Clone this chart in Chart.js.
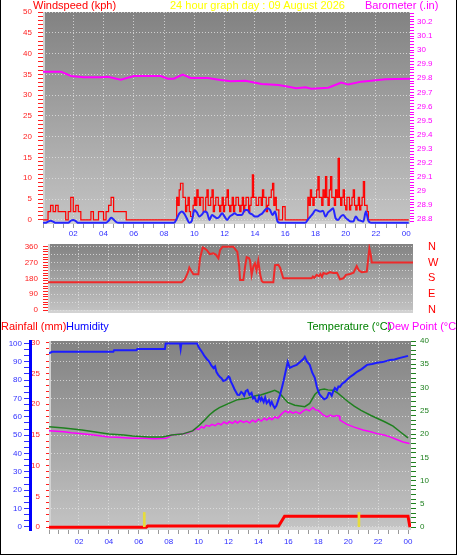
<!DOCTYPE html>
<html><head><meta charset="utf-8">
<script src="https://cdn.jsdelivr.net/npm/chart.js@4.4.0/dist/chart.umd.min.js"></script>
<style>
html,body{margin:0;padding:0;background:#fff;}
#wrap{position:relative;width:457px;height:555px;background:#fff;overflow:hidden;}
#wrap canvas{position:absolute;left:0;}
.t{position:absolute;font-family:"Liberation Sans",Arial,sans-serif;font-size:11px;line-height:11px;white-space:nowrap;}
#frame{position:absolute;left:0;top:0;width:457px;height:555px;box-sizing:border-box;border-left:1px solid #000;border-right:1px solid #000;border-bottom:1px solid #000;pointer-events:none;}
</style></head>
<body><div id="wrap">
<canvas id="c1" width="457" height="240" style="top:0"></canvas>
<canvas id="c2" width="457" height="80" style="top:240px"></canvas>
<canvas id="c3" width="457" height="235" style="top:320px"></canvas>
<div class="t" style="left:33px;top:0;color:#ff0000">Windspeed (kph)</div>
<div class="t" style="left:170px;top:0;color:#ffff00">24 hour graph day : 09 August 2026</div>
<div class="t" style="left:365px;top:0;color:#ff00ff">Barometer (.in)</div>
<div class="t" style="left:1px;top:321px;color:#ff0000">Rainfall (mm)</div>
<div class="t" style="left:66px;top:321px;color:#0000ff">Humidity</div>
<div class="t" style="left:307px;top:321px;color:#008000">Temperature (°C)</div>
<div class="t" style="left:387px;top:321px;color:#ff00ff">Dew Point (°C)</div>
<div id="frame"></div>
</div>
<script>
// ---------- DATA ----------
// wind gust (kph), three sampled segments: start hour, step in minutes, values
const gustEarlyStart = 0, gustEarlyStep = 10;
const gustEarly = [0,0,2,3.5,2,3.5,2,2,2,0,2,5.4,2,3.5,2,0,0,0,0,2,0,0,2,2,0,2,3.5,5.4,2,2,2,2,2,
 0,0,0,0,0,0,0,0,0,0,0,0,0,0,0,0,0,0,0,0];
const gustDayStart = 8 + 50 / 60, gustDayStep = 5;
const gustDay = [
 5.4,3.5,7.2,8.8,8.8,5.4,5.4,2,3.5,5.4,2,0.8,
 0.8,3.5,5.4,3.5,7.2,5.4,3.5,5.4,5.4,2,2,5.4,
 7.2,3.5,3.5,5.4,7.2,2,3.5,5.4,5.4,3.5,2,3.5,
 5.4,2,3.5,5.4,7.2,3.5,2,3.5,5.4,2,3.5,5.4,
 5.4,3.5,2,3.5,5.4,2,3.5,5.4,5.4,2,3.5,5.4,
 10.8,5.4,5.4,3.5,3.5,5.4,5.4,3.5,7.2,5.4,5.4,2,
 3.5,5.4,5.4,7.2,8.8,3.5,5.4,2.4,2.4,0,0,0,
 3.2,3.2,0,0,0,0,0,0,0,0,0,0,
 0,0,0,0,0,0,0,0,5.4,3.5,7.2,5.4,
 3.5,5.4,5.4,7.2,10.4,5.4,5.4,3.5,7.2,5.4,10.4,5.4,
 3.5,7.2,10.4,5.4,5.4,3.5,7.2,5.4,14.8,5.4,3.5,5.4,
 7.2,3.5,2.4,5.4,5.4,2.4,3.5,5.4,7.2,3.5,2.4,3.5,
 5.4,2.4,3.5,5.4,9.2,3.5,3.5,2,0,0,0,0];
const gustLateStart = 21 + 50 / 60, gustLateStep = 10;
const gustLate = [0,0,0,0,0,0,0,0,0,0,0,0,0,0,0];
// average wind (kph), every 10 minutes from 00:00
const avgStep = 10;
const windAvg = [
 0,0,0.3,0.5,0.3,0,0,0,0,0,0,0.5,0.7,0.4,0,0,0,0,0,0,0,0,0,0,0,0,0.5,1.2,0.8,0.2,
 0,0,0,0,0,0,0,0,0,0,0,0,0,0,0,0,0,0,0,0,0,0,0,
 1.0,2.2,2.7,2.2,1.1,0,0.5,3.1,2.5,1.5,2.0,2.7,2.5,0.7,1.9,1.5,1.1,1.5,2.3,1.5,0.7,1.5,1.9,2.3,1.9,1.9,2.0,3.1,3.1,2.3,2.0,1.5,1.5,1.9,2.3,3.1,3.5,3.1,1.9,2.7,0.3,
 0,0,0,0,0,0,0,0,0,0,0,
 0.8,1.5,2.2,3.1,2.9,2.7,2.9,1.5,2.5,3.0,3.5,1.1,0.7,1.5,1.9,1.2,0.7,0.3,0.3,1.5,0.7,0.5,0.3,2.7,0.5,
 0,0,0,0,0,0,0,0,0,0,0,0,0,0,0,0
];
const baroHours = [0.0,1.19,1.85,2.7,3.82,4.28,5.14,6.0,6.66,7.78,8.24,8.64,9.23,9.76,10.88,11.73,12.39,13.38,14.44,15.56,16.22,16.74,17.34,17.73,18.85,19.71,20.17,21.03,21.69,22.61,23.27,24.25];
const baroValues = [29.847,29.847,29.816,29.807,29.807,29.81,29.79,29.816,29.816,29.816,29.797,29.797,29.826,29.802,29.802,29.788,29.779,29.783,29.76,29.752,29.74,29.729,29.736,29.726,29.733,29.769,29.755,29.776,29.783,29.793,29.795,29.797];
const dirHours = [0,8.88,9.1,9.3,9.39,9.5,9.66,9.99,10.1,10.28,10.4,10.54,10.75,10.98,11.15,11.32,11.43,11.6,12.31,12.45,12.58,12.7,12.76,12.98,13.1,13.2,13.35,13.42,13.53,13.65,13.75,13.85,13.97,14.1,14.2,14.3,14.97,15.08,15.3,15.42,15.63,17.52,17.6,17.7,17.85,18.0,18.1,18.2,18.3,18.5,18.74,18.96,19.2,19.4,19.62,19.8,20.07,20.3,20.51,20.65,20.84,21.18,21.35,21.45,21.51,24.25];
const dirValues = [157.5,157.5,175,215,241,225,203,203,294,355,350,341,318,322,315,294,340,360,360,345,330,250,171,171,250,300,295,282,200,250,265,225,280,200,165,157.5,157.5,255,257,240,180,180,190,183,200,192,205,188,210,205,215,210,212,175,180,200,205,212,250,225,215,218,350,310,270,270];
const humHours = [0,0.2,4.3,4.35,5.85,5.9,7.75,7.8,8.75,8.8,8.85,9.9,10.0,10.25,10.4,10.55,10.72,10.85,11.0,11.1,11.19,11.3,11.45,11.53,11.65,11.8,11.87,12.0,12.07,12.17,12.27,12.4,12.5,12.6,12.72,12.85,12.94,13.05,13.15,13.27,13.4,13.54,13.64,13.74,13.85,13.95,14.05,14.15,14.22,14.35,14.45,14.55,14.7,14.8,14.89,15.0,15.09,15.2,15.29,15.45,15.62,15.8,15.96,16.1,16.3,16.56,16.8,17.0,17.1,17.25,17.43,17.6,17.77,17.9,17.97,18.1,18.24,18.4,18.58,18.7,18.78,18.9,19.0,19.11,19.25,19.35,19.45,19.6,19.78,19.95,20.12,20.35,20.59,20.9,21.26,21.6,21.93,22.3,22.8,23.1,23.47,23.8,24.0];
const humValues = [94.5,95.4,95.4,96.3,96.3,97,97,100,100,97,100,100,98,95,93,91.5,90,88,86.5,87.5,84.5,83,81.5,81,79.5,80,80.5,82,81.5,79,77.4,75,73.5,72,71.9,73.5,73,71.5,74,74.6,72,73,70,70.8,68.5,68.1,71,69,70.3,68,70.5,67.5,69,66.5,68.1,66,64.8,66,68.1,72,77.4,84,89.9,86.7,87.5,88.3,90,91.5,92.7,90,88.3,84,81.2,76.5,74.6,72,70.8,69.5,70.3,73,73,71.5,74,75.7,74.5,76.5,76.3,78,79,80.5,81.7,83,84.5,86,88.3,88.8,89.4,89.8,91,91.2,92.1,92.8,93.2];
const tempHours = [0,1.0,2.2,3.0,4.0,5.0,5.6,6.7,7.6,8.2,8.9,9.6,10.05,10.4,10.72,11.05,11.39,11.95,12.6,13.27,13.88,14.15,14.82,15.09,15.35,15.62,15.96,16.43,17.1,17.43,17.77,18.1,18.4,18.64,19.0,19.31,19.98,20.4,20.86,21.53,22.47,23.0,23.47,24.0];
const tempValues = [21.6,21.3,20.9,20.5,20.0,19.8,19.6,19.4,19.4,19.8,20.0,20.7,21.9,23.0,24.1,25.0,25.7,26.5,27.4,27.7,28.3,28.4,29.1,29.4,29.0,28.0,26.8,26.2,25.9,26.6,28.5,29.5,29.7,29.5,29.4,28.8,27.0,26.0,25.1,24.0,22.6,21.7,20.5,19.2];
const dewHours = [0,0.5,1.0,1.5,2.2,3.0,4.0,4.5,5.56,6.5,7.0,7.84,8.2,8.9,9.3,9.6,9.85,10.0,10.2,10.35,10.5,10.72,10.9,11.1,11.3,11.5,11.7,11.9,12.06,12.25,12.45,12.6,12.8,13.0,13.2,13.41,13.6,13.8,14.0,14.2,14.4,14.55,14.75,14.9,15.1,15.3,15.45,15.6,15.8,16.0,16.1,16.3,16.5,16.77,17.0,17.2,17.4,17.64,17.8,18.0,18.1,18.3,18.58,18.8,19.0,19.25,19.4,19.45,19.7,19.92,20.4,20.99,21.5,21.93,22.4,22.8,23.2,23.67,24.1];
const dewValues = [20.7,20.6,20.5,20.3,20.1,19.8,19.4,19.3,19.1,19.1,19.0,19.1,19.8,20.0,20.3,20.7,21.2,21.0,21.6,21.3,21.9,21.7,22.1,21.8,22.3,22.0,22.6,22.2,22.7,22.3,22.8,22.4,22.9,22.5,22.8,22.4,23.0,22.6,23.2,22.8,23.4,23.0,23.5,23.1,23.7,23.4,24.0,24.5,25.0,24.6,24.9,24.5,24.8,24.4,25.0,25.3,25.0,25.7,25.2,25.1,24.8,24.2,23.7,24.1,23.8,24.0,23.9,23.0,22.5,22.1,21.5,20.9,20.5,20.1,19.8,19.4,18.9,18.3,18.0];
const rainHours = [0,6.5,6.6,15.35,15.75,24.0,24.13];
const rainValues = [0,0,0.2,0.2,1.8,1.8,0];
const markHours = [6.37,20.72];
const markValues = [2.4,2.4];
const xLabelHours = [2,4,6,8,10,12,14,16,18,20,22,24];
const xLabelText = ['02','04','06','08','10','12','14','16','18','20','22','00'];
const compassDegrees = [0,90,180,270,360];
const compassLabels = ['N','E','S','W','N'];

// ---------- HELPERS ----------
const FONT = '"Liberation Sans", Arial, sans-serif';
const GRID = 'rgba(225,225,225,0.8)';
const NONE = 'rgba(0,0,0,0)';
const pts = (xs, ys) => xs.map((x, i) => ({x, y: ys[i]}));
const seg = (start, stepMin, ys) => ys.map((y, i) => ({x: start + i * stepMin / 60, y}));
const near = (a, b) => Math.abs(a - b) < 1e-6;
const rangeTicks = (from, to, step) => { const t = []; const n = Math.round((to - from) / step); for (let k = 0; k <= n; k++) t.push({value: Math.round((from + k * step) * 1000) / 1000}); return t; };
const fix = (w, h) => s => { if (w != null) s.width = w; if (h != null) s.height = h; s.paddingTop = 0; s.paddingBottom = 0; s.paddingLeft = 0; s.paddingRight = 0; };

const bgPlugin = {
  id: 'bg',
  beforeDraw(chart) {
    const {ctx, chartArea: a} = chart;
    const g = ctx.createLinearGradient(0, a.top, 0, a.bottom);
    g.addColorStop(0, '#828282');
    g.addColorStop(1, '#c4c4c4');
    ctx.save();
    ctx.fillStyle = g;
    ctx.fillRect(a.left, a.top, a.right - a.left, a.bottom - a.top);
    ctx.fillStyle = '#d2d2d2';
    ctx.fillRect(a.left, a.bottom - 3, a.right - a.left, 3);
    ctx.fillRect(a.left, a.top, 2, a.bottom - a.top);
    ctx.restore();
  }
};

function xAxis(max, height, pad, showLabels) {
  return {
    type: 'linear', min: 0, max: max, offset: false, display: true,
    afterBuildTicks: s => { s.ticks = rangeTicks(0, 24, 2 / 3); },
    afterFit: fix(null, height),
    grid: {
      offset: false, drawTicks: showLabels, tickLength: 4, tickColor: '#9a9a9a',
      color: c => (c.tick && xLabelHours.some(h => near(h, c.tick.value) && h < 24)) ? GRID : NONE
    },
    border: {display: false, dash: [1, 2]},
    ticks: {
      display: showLabels, autoSkip: false, maxRotation: 0, padding: pad, color: '#3030ff',
      font: {family: FONT, size: 8},
      callback: v => { const i = xLabelHours.findIndex(h => near(h, v)); return i >= 0 ? xLabelText[i] : ''; }
    }
  };
}

function yAxis(opts) {
  return {
    type: 'linear', position: opts.position, min: opts.min, max: opts.max, weight: opts.weight || 0,
    afterBuildTicks: s => { s.ticks = opts.ticks(); },
    afterFit: fix(opts.width, null),
    grid: {
      drawOnChartArea: !!opts.gridMajor, drawTicks: opts.tickLength > 0, tickLength: opts.tickLength,
      tickColor: opts.tickColor || opts.color,
      color: c => (opts.gridMajor && c.tick && opts.gridMajor(c.tick.value)) ? GRID : NONE
    },
    border: opts.border || {display: false, dash: [1, 2]},
    ticks: {
      autoSkip: false, padding: opts.pad, color: opts.color,
      font: {family: FONT, size: opts.fontSize || 8},
      callback: opts.label
    }
  };
}

const baseOptions = (padding, scales) => ({
  responsive: false, animation: false, devicePixelRatio: 1, events: [],
  layout: {padding},
  plugins: {legend: {display: false}, tooltip: {enabled: false}, title: {display: false}},
  elements: {point: {radius: 0}, line: {tension: 0}},
  scales
});

// ---------- CHART 1 : wind + barometer ----------
const gustPoints = seg(gustEarlyStart, gustEarlyStep, gustEarly)
  .concat(seg(gustDayStart, gustDayStep, gustDay))
  .concat(seg(gustLateStart, gustLateStep, gustLate));
new Chart(document.getElementById('c1'), {
  type: 'line',
  data: {datasets: [
    {label: 'Average', data: seg(0, avgStep, windAvg), yAxisID: 'yAvg', borderColor: '#2626ff', borderWidth: 2, pointRadius: 0, cubicInterpolationMode: 'monotone', tension: 0.4},
    {label: 'Gust', data: gustPoints, yAxisID: 'y', borderColor: '#ff0000', borderWidth: 1.2, pointRadius: 0, stepped: true},
    {label: 'Barometer', data: pts(baroHours, baroValues), yAxisID: 'yB', borderColor: '#ff00ff', borderWidth: 2, pointRadius: 0}
  ]},
  options: baseOptions({top: 12, left: 0, right: 0, bottom: 0}, {
    x: xAxis(24.25, 16, 1, true),
    y: yAxis({position: 'left', min: -1, max: 50, width: 43, tickLength: 5, pad: 6, color: '#ff2020',
      ticks: () => rangeTicks(0, 50, 1), gridMajor: v => Math.round(v) % 5 === 0,
      label: v => (Math.round(v) % 5 === 0 ? String(Math.round(v)) : '')}),
    yB: yAxis({position: 'right', min: 28.764, max: 30.271, width: 47, tickLength: 4, pad: 3, color: '#ff00ff',
      ticks: () => rangeTicks(28.78, 30.26, 0.02),
      label: v => (Math.round(v * 100) % 10 === 0 ? String(Math.round(v * 10) / 10) : '')}),
    yAvg: {type: 'linear', display: false, min: -0.28, max: 50.72}
  }),
  plugins: [bgPlugin]
});

// ---------- CHART 2 : wind direction ----------
new Chart(document.getElementById('c2'), {
  type: 'line',
  data: {datasets: [
    {label: 'Direction', data: pts(dirHours, dirValues), yAxisID: 'y', borderColor: '#ee2a2a', borderWidth: 2, pointRadius: 0}
  ]},
  options: baseOptions({top: 4, left: 0, right: 0, bottom: 7}, {
    x: xAxis(24.25, 0, 0, false),
    y: yAxis({position: 'left', min: -17, max: 375, width: 48, tickLength: 5, pad: 5, color: '#ff2020',
      ticks: () => rangeTicks(0, 360, 15), gridMajor: v => Math.round(v) % 45 === 0,
      label: v => (Math.round(v) % 90 === 0 ? String(Math.round(v)) : '')}),
    yC: yAxis({position: 'right', min: -17, max: 375, width: 44, tickLength: 0, pad: 15, color: '#ff0000', fontSize: 11,
      ticks: () => compassDegrees.map(v => ({value: v})),
      label: v => { const i = compassDegrees.findIndex(d => near(d, v)); return i >= 0 ? compassLabels[i] : ''; }})
  }),
  plugins: [bgPlugin]
});

// ---------- CHART 3 : rain / humidity / temperature / dew point ----------
new Chart(document.getElementById('c3'), {
  type: 'line',
  data: {datasets: [
    {type: 'bar', label: 'Marks', data: pts(markHours, markValues), yAxisID: 'yR', backgroundColor: '#e6dc3c', barThickness: 2},
    {label: 'Rainfall', data: pts(rainHours, rainValues), yAxisID: 'yR', borderColor: '#ff0000', borderWidth: 3, pointRadius: 0},
    {label: 'Humidity', data: pts(humHours, humValues), yAxisID: 'yH', borderColor: '#1c1cff', borderWidth: 2, pointRadius: 0},
    {label: 'Temperature', data: pts(tempHours, tempValues), yAxisID: 'yT', borderColor: '#1f801f', borderWidth: 1.5, pointRadius: 0},
    {label: 'Dew Point', data: pts(dewHours, dewValues), yAxisID: 'yT', borderColor: '#ff00ff', borderWidth: 1.5, pointRadius: 0}
  ]},
  options: baseOptions({top: 21, left: 0, right: 0, bottom: 0}, {
    x: xAxis(24.2, 25, 3, true),
    yR: yAxis({position: 'left', weight: 0, min: -0.45, max: 30.25, width: 19, tickLength: 3, pad: 6, color: '#ff2020',
      ticks: () => rangeTicks(0, 30, 1),
      label: v => (Math.round(v) % 5 === 0 ? String(Math.round(v)) : '')}),
    yH: yAxis({position: 'left', weight: 1, min: -1.7, max: 101.3, width: 30, tickLength: 6, pad: 2, color: '#3030ff',
      border: {display: true, color: '#0000ff', width: 3, dash: [1, 2]},
      ticks: () => rangeTicks(0, 100, 10 / 3), gridMajor: v => near(v / 10, Math.round(v / 10)),
      label: v => (near(v / 10, Math.round(v / 10)) ? String(Math.round(v)) : '')}),
    yT: yAxis({position: 'right', min: -0.6, max: 40, width: 46, tickLength: 5, pad: 4, color: '#1f801f',
      ticks: () => rangeTicks(0, 40, 1),
      label: v => (Math.round(v) % 5 === 0 ? String(Math.round(v)) : '')})
  }),
  plugins: [bgPlugin]
});
</script>
</body></html>
